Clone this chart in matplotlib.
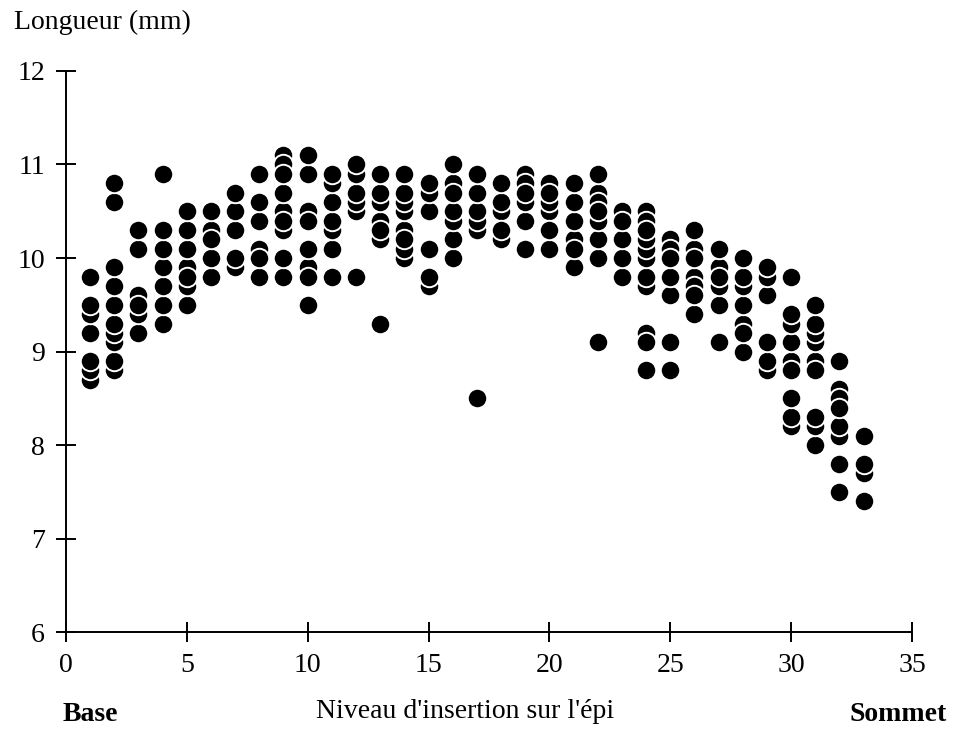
import matplotlib.pyplot as plt

# niveau d'insertion sur l'epi (1 = base, 33 = sommet)
niveaux = list(range(1, 34))

# longueur (mm) des grains mesures a chaque niveau
# (l'ordre dans chaque liste = ordre de trace, pour les recouvrements)
longueurs = [
    [8.7, 8.8, 8.9, 9.2, 9.4, 9.5, 9.8],
    [8.8, 8.9, 9.1, 9.2, 9.3, 9.5, 9.7, 9.9, 10.6, 10.8],
    [9.2, 9.4, 9.6, 9.5, 10.1, 10.3],
    [9.3, 9.5, 9.7, 9.9, 10.1, 10.3, 10.9],
    [9.5, 9.7, 9.9, 9.8, 10.1, 10.3, 10.5],
    [9.8, 10.0, 10.3, 10.2, 10.5],
    [9.9, 10.0, 10.3, 10.5, 10.7],
    [9.8, 10.1, 10.0, 10.4, 10.6, 10.9],
    [9.8, 10.0, 10.3, 10.5, 10.4, 10.7, 11.1, 11.0, 10.9],
    [9.5, 9.9, 9.8, 10.1, 10.5, 10.4, 10.9, 11.1],
    [9.8, 10.1, 10.3, 10.4, 10.6, 10.8, 10.9],
    [9.8, 10.5, 10.6, 10.7, 10.9, 11.0],
    [9.3, 10.2, 10.4, 10.3, 10.6, 10.7, 10.9],
    [10.0, 10.1, 10.3, 10.2, 10.5, 10.6, 10.7, 10.9],
    [9.7, 9.8, 10.1, 10.5, 10.7, 10.8],
    [10.0, 10.2, 10.4, 10.5, 10.8, 10.7, 11.0],
    [8.5, 10.3, 10.4, 10.5, 10.7, 10.9],
    [10.2, 10.5, 10.3, 10.6, 10.8],
    [10.1, 10.4, 10.6, 10.9, 10.8, 10.7],
    [10.1, 10.5, 10.3, 10.6, 10.8, 10.7],
    [9.9, 10.2, 10.1, 10.4, 10.6, 10.8],
    [9.1, 10.0, 10.2, 10.4, 10.7, 10.6, 10.5, 10.9],
    [9.8, 10.0, 10.2, 10.5, 10.4],
    [8.8, 9.2, 9.1, 9.7, 9.8, 10.0, 10.1, 10.2, 10.5, 10.4, 10.3],
    [8.8, 9.1, 9.6, 9.8, 10.2, 10.1, 10.0],
    [9.4, 9.8, 9.7, 9.6, 10.1, 10.0, 10.3],
    [9.1, 9.5, 9.7, 9.9, 9.8, 10.1],
    [9.0, 9.3, 9.2, 9.5, 9.7, 9.8, 10.0],
    [8.8, 8.9, 9.1, 9.6, 9.8, 9.9],
    [8.2, 8.3, 8.5, 8.9, 8.8, 9.1, 9.3, 9.4, 9.8],
    [8.0, 8.2, 8.3, 8.9, 8.8, 9.1, 9.2, 9.3, 9.5],
    [7.5, 7.8, 8.1, 8.2, 8.6, 8.5, 8.4, 8.9],
    [7.4, 7.7, 7.8, 8.1],
]

plt.rcParams['font.family'] = 'Liberation Serif'
plt.rcParams['font.size'] = 20

fig = plt.figure(figsize=(9.55, 7.31), dpi=100)
ax = fig.add_axes([0.069, 0.135, 0.886, 0.768])

for niv, vals in zip(niveaux, longueurs):
    ax.plot([niv] * len(vals), vals, 'o', color='black', markersize=14,
            markeredgecolor='white', markeredgewidth=1.4, linestyle='none')

ax.set_xlim(0, 35)
ax.set_ylim(6, 12)
ax.set_xticks(range(0, 36, 5))
ax.set_yticks(range(6, 13))

ax.spines['top'].set_visible(False)
ax.spines['right'].set_visible(False)
ax.spines['left'].set_linewidth(1.4)
ax.spines['bottom'].set_linewidth(1.4)
ax.tick_params(direction='inout', length=14, width=1.4, labelsize=20)
ax.tick_params(axis='x', pad=8)
ax.tick_params(axis='y', pad=8)

fig.text(0.015, 0.97, 'Longueur (mm)', fontsize=20, va='center', ha='left')
fig.text(0.487, 0.027, "Niveau d'insertion sur l'épi", fontsize=20, va='center', ha='center')
fig.text(0.065, 0.023, 'Base', fontsize=20, fontweight='bold', va='center', ha='left')
fig.text(0.991, 0.023, 'Sommet', fontsize=20, fontweight='bold', va='center', ha='right')

plt.savefig('out.png', dpi=100)
